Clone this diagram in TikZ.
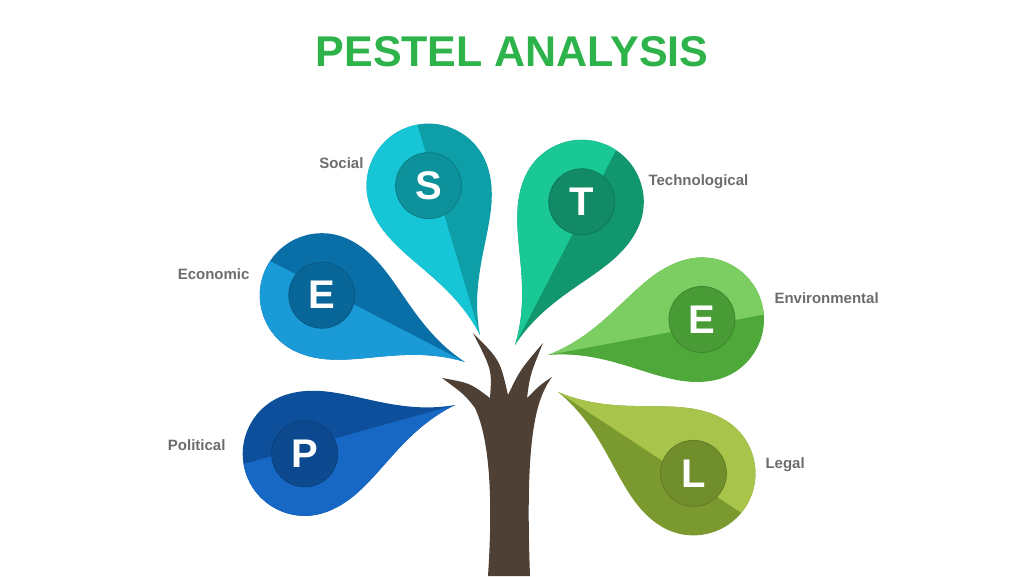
\documentclass[tikz,border=0pt]{standalone}
\usepackage{fontspec}
\setmainfont{Liberation Sans}
\usepackage{tikz}
\usetikzlibrary{positioning}

\definecolor{titlegreen}{HTML}{2DB34A}
\definecolor{labelgray}{HTML}{6D6D6D}
\definecolor{trunk}{HTML}{4E4034}
\definecolor{polA}{HTML}{0D4F9A}\definecolor{polB}{HTML}{1668C4}
\definecolor{ecoA}{HTML}{0A6FA6}\definecolor{ecoB}{HTML}{1A9AD6}
\definecolor{socA}{HTML}{0E9EA8}\definecolor{socB}{HTML}{17C6D6}
\definecolor{tecA}{HTML}{12966E}\definecolor{tecB}{HTML}{19C894}
\definecolor{envA}{HTML}{4EA83A}\definecolor{envB}{HTML}{7CCD62}
\definecolor{legA}{HTML}{7A9A30}\definecolor{legB}{HTML}{A8C44A}

% leaf: tip at #1, angle #2, dark colour #3, light colour #4, letter #5
\newcommand{\leaf}[5]{%
  \begin{scope}[shift={#1}, rotate=#2]
    \path[fill=#3] (0,0) .. controls (70,10) and (105,62) .. (158,62)
      arc[start angle=90, end angle=-90, radius=62]
      .. controls (105,-62) and (70,-10) .. (0,0) -- cycle;
    \begin{scope}
      \clip (0,0) .. controls (70,10) and (105,62) .. (158,62)
        arc[start angle=90, end angle=-90, radius=62]
        .. controls (105,-62) and (70,-10) .. (0,0) -- cycle;
      \fill[#4] (0,0) -- (240,10) -- (240,-80) -- (0,-80) -- cycle;
    \end{scope}
    \node[circle, minimum size=66pt, fill=#3!92!black, draw=#3!80!black,
      line width=0.8pt, text=white, font=\fontsize{40}{40}\selectfont\bfseries]
      at (158,0) {#5};
  \end{scope}}

\tikzset{
  side/.style={text=labelgray, font=\fontsize{15}{15}\selectfont\bfseries},
}

\begin{document}
\begin{tikzpicture}[x=1pt, y=-1pt]
\useasboundingbox[fill=white] (0,0) rectangle (1024,576);

\node[text=titlegreen, font=\fontsize{43}{43}\selectfont\bfseries] (title) at (512,52) {PESTEL ANALYSIS};

% leaves
\leaf{(455,405)}{198}{polA}{polB}{P}
\leaf{(465,362)}{155}{ecoA}{ecoB}{E}
\leaf{(480,335)}{109}{socA}{socB}{S}
\leaf{(515,345)}{65}{tecA}{tecB}{T}
\leaf{(548,355)}{13}{envA}{envB}{E}
\leaf{(558,392)}{-31}{legA}{legB}{L}

% tree
\fill[trunk] (488,576) .. controls (493,500) and (490,440) .. (475,408)
  .. controls (465,395) .. (442,378) .. controls (470,383) .. (490,398)
  .. controls (492,370) .. (473,333) .. controls (500,360) .. (508,395)
  .. controls (520,370) .. (543,343) .. controls (530,375) .. (527,398)
  .. controls (540,385) .. (552,377) .. controls (535,400) and (525,440) .. (530,576)
  -- cycle;

% labels
\node[side, anchor=east] (social) at (367,163) {Social};
\node[side, anchor=east] (econ) at (253,274) {Economic};
\node[side, anchor=east] (pol) at (229,445) {Political};
\node[side, anchor=west] (tech) at (645,182) {Technological};
\node[side, anchor=west] (env) at (771,298) {Environmental};
\node[side, anchor=west] (legal) at (762,465) {Legal};
\end{tikzpicture}
\end{document}
